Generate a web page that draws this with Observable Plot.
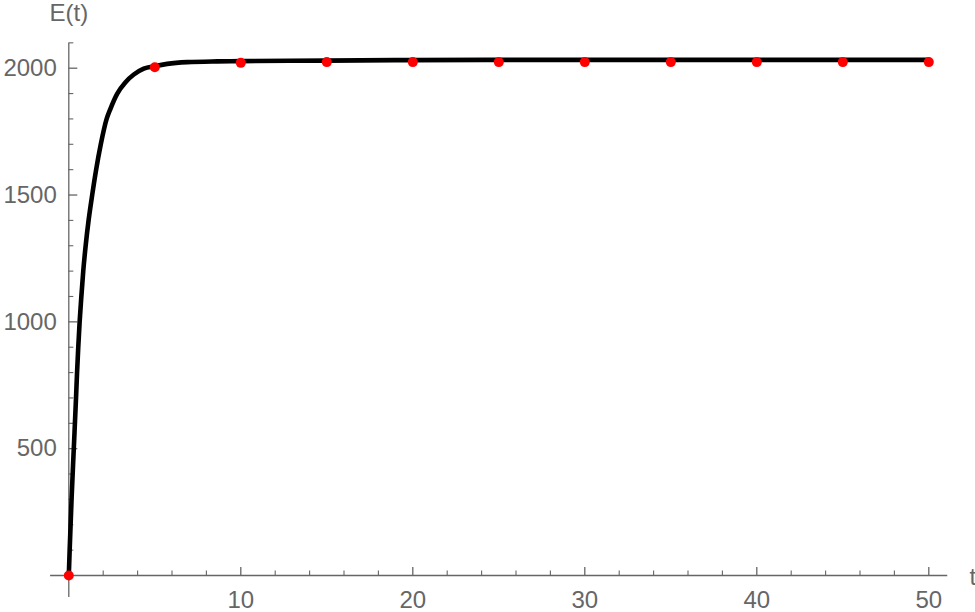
<!DOCTYPE html>
<html>
<head>
<meta charset="utf-8">
<script src="https://cdn.jsdelivr.net/npm/d3@7"></script>
<script src="https://cdn.jsdelivr.net/npm/@observablehq/plot@0.6"></script>
<style>
  html, body { margin: 0; padding: 0; background: #fff; }
  #chart svg { display: block; }
</style>
</head>
<body>
<div id="chart"></div>
<script>
// Curve: time t and E(t)
const curveT = [0, 0.05, 0.16, 0.29, 0.42, 0.48, 0.55, 0.63, 0.73, 0.84, 0.98, 1.15, 1.36, 1.59, 1.86, 2.2, 2.42, 2.81, 3.3, 3.78, 4.36, 5.0, 5.72, 6.88, 8.63, 10, 15, 20, 30, 40, 50];
const curveE = [0, 100, 300, 500, 700, 800, 900, 1000, 1100, 1200, 1300, 1400, 1500, 1600, 1700, 1800, 1840, 1899, 1945, 1975, 1998, 2008, 2017, 2024, 2027, 2028, 2030, 2032, 2033, 2033, 2033];

// Red sample points
const pointT = [0, 5, 10, 15, 20, 25, 30, 35, 40, 45, 50];
const pointE = [0, 2004, 2021, 2024, 2024, 2024, 2024, 2024, 2024, 2024, 2024];

// Ticks
const xMajor = [10, 20, 30, 40, 50];
const xMinor = [2, 4, 6, 8, 12, 14, 16, 18, 22, 24, 26, 28, 32, 34, 36, 38, 42, 44, 46, 48];
const yMajor = [500, 1000, 1500, 2000];
const yMinor = [100, 200, 300, 400, 600, 700, 800, 900, 1100, 1200, 1300, 1400, 1600, 1700, 1800, 1900, 2100];
const xLabel = "t";
const yLabel = "E(t)";

const xExtent = [-1.06, 51.1];
const yExtent = [-87, 2097];

const curve = curveT.map((t, i) => ({t, E: curveE[i]}));
const points = pointT.map((t, i) => ({t, E: pointE[i]}));

const axisColor = "#666666";
const fontFamily = "'Liberation Sans', Arial, sans-serif";

const chart = Plot.plot({
  width: 975,
  height: 612,
  margin: 0,
  style: {fontFamily, fontSize: "24px", background: "#fff"},
  x: {domain: [0, 50], range: [68.3, 928.3], axis: null},
  y: {domain: [0, 2000], range: [575, 67.7], axis: null},
  marks: [
    // axis lines
    Plot.ruleY([0], {x1: xExtent[0], x2: xExtent[1], stroke: axisColor, strokeWidth: 1.3}),
    Plot.ruleX([0], {y1: yExtent[0], y2: yExtent[1], stroke: axisColor, strokeWidth: 1.3}),
    // x ticks (pointing up)
    Plot.ruleX(xMajor, {x: d => d, y1: 0, y2: 0, insetTop: -8, stroke: axisColor, strokeWidth: 1.3}),
    Plot.ruleX(xMinor, {x: d => d, y1: 0, y2: 0, insetTop: -4.5, stroke: axisColor, strokeWidth: 1.1}),
    // y ticks (pointing right)
    Plot.ruleY(yMajor, {y: d => d, x1: 0, x2: 0, insetRight: -9, stroke: axisColor, strokeWidth: 1.3}),
    Plot.ruleY(yMinor, {y: d => d, x1: 0, x2: 0, insetRight: -5, stroke: axisColor, strokeWidth: 1.1}),
    // tick labels
    Plot.text(xMajor, {x: d => d, y: 0, dy: 25, text: d => String(d), fill: axisColor, fontSize: 24, lineAnchor: "middle"}),
    Plot.text(yMajor, {x: 0, y: d => d, dx: -12, text: d => String(d), textAnchor: "end", fill: axisColor, fontSize: 24, lineAnchor: "middle"}),
    // axis labels
    Plot.text([yLabel], {x: 0, y: yExtent[1], dy: -30, text: d => d, fill: axisColor, fontSize: 24, lineAnchor: "middle"}),
    Plot.text([xLabel], {x: xExtent[1], y: 0, dx: 25, dy: 2, text: d => d, fill: axisColor, fontSize: 24, lineAnchor: "middle"}),
    // curve
    Plot.line(curve, {x: "t", y: "E", stroke: "#000", strokeWidth: 4.6, curve: "monotone-x", strokeLinejoin: "round"}),
    // red points
    Plot.dot(points, {x: "t", y: "E", r: 5, fill: "#ff0000", stroke: "none"})
  ]
});

document.getElementById("chart").appendChild(chart);
</script>
</body>
</html>
